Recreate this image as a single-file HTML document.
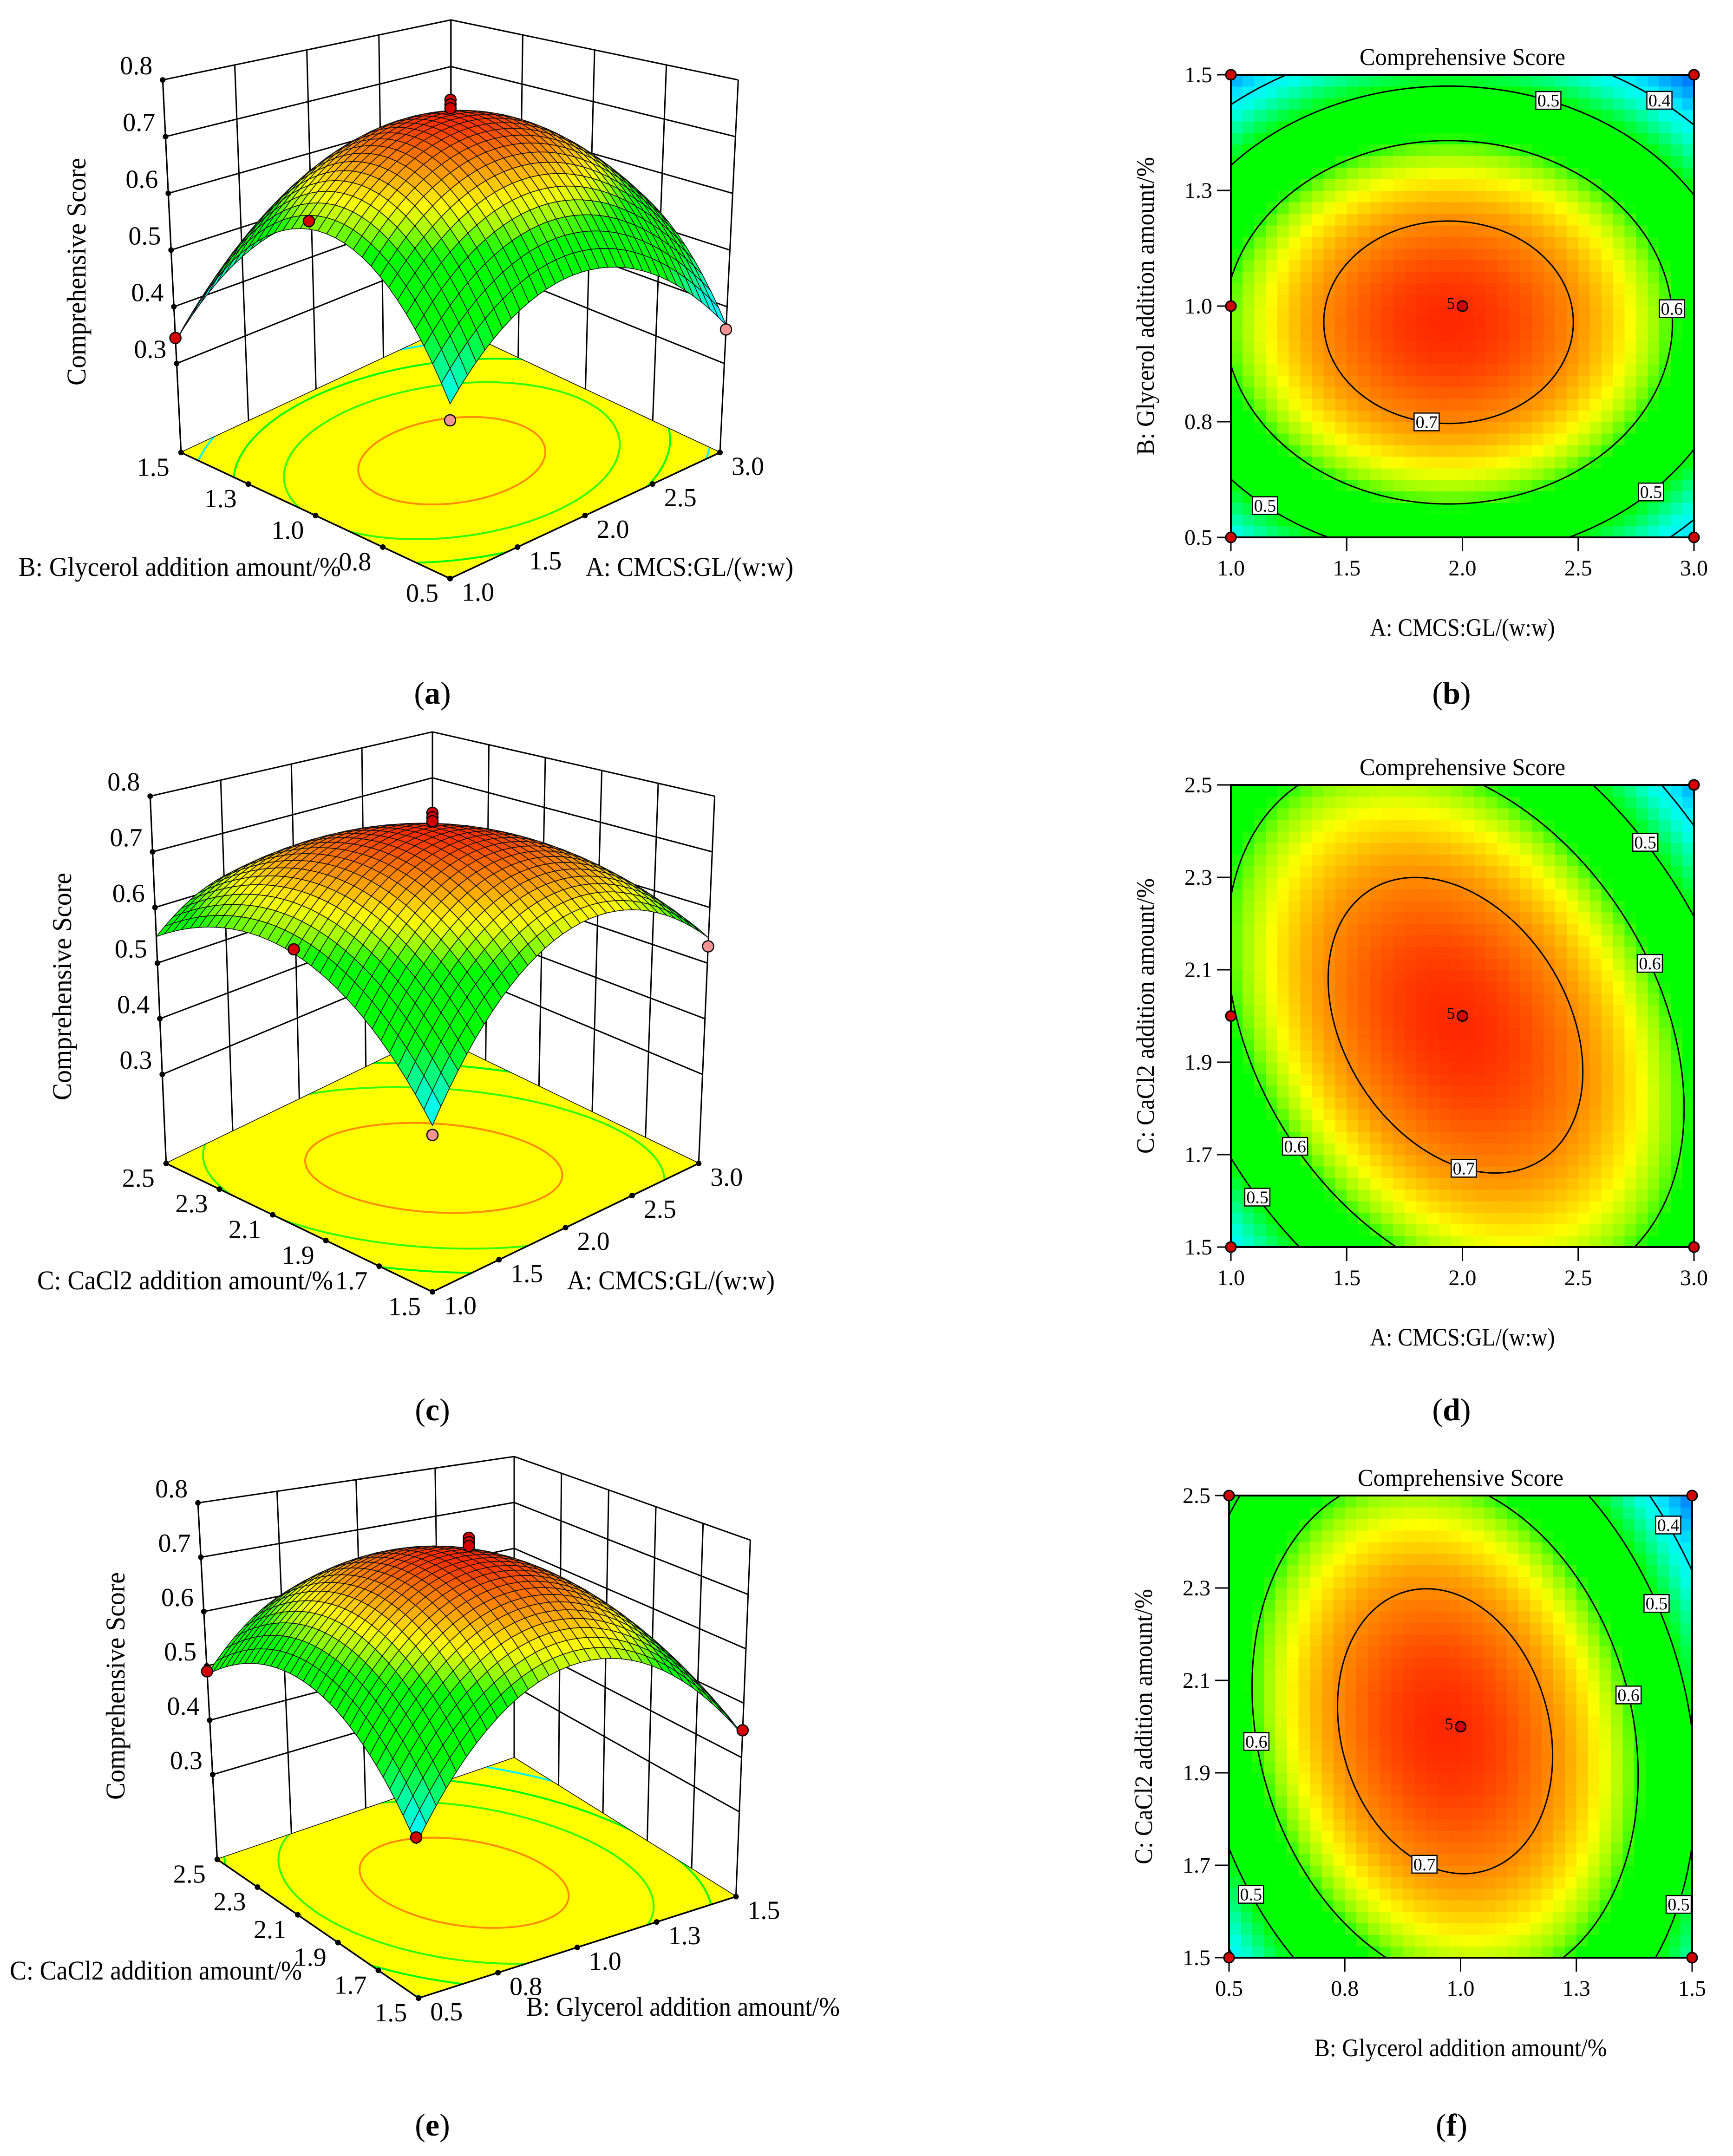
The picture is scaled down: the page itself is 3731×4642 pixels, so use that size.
<!DOCTYPE html>
<html><head><meta charset="utf-8"><title>Response surface figure</title>
<style>html,body{margin:0;padding:0;background:#fff}svg{display:block}text{font-family:"Liberation Serif","Times New Roman",serif}</style>
</head><body>
<svg id="fig" xmlns="http://www.w3.org/2000/svg" width="3731" height="4642" viewBox="0 0 3731 4642" font-family="Liberation Serif, serif"></svg>
<script>
// ---------- data ----------
const modelAB=[0.745,-0.06,-0.07,0.155,0.235,0];      // fs, xs, ys, a, b, c (coded)
const modelAC=[0.745,-0.03,-0.04,0.165,0.122,0.089];
const modelBC=[0.745,-0.067,-0.02,0.215,0.122,0.056];
const contourLevels=[0.4,0.5,0.6,0.7];
const ticksA=['1.0','1.5','2.0','2.5','3.0'];
const ticksB=['0.5','0.8','1.0','1.3','1.5'];
const ticksC=['1.5','1.7','1.9','2.1','2.3','2.5'];
const ticksZ=['0.3','0.4','0.5','0.6','0.7','0.8'];
const zTickValues=[0.3,0.4,0.5,0.6,0.7,0.8];
const labelsB=[[0.5,65.8],[0.4,46.5],[0.6,3.5],[0.7,257.6],[0.5,225],[0.5,320]];
const labelsD=[[0.5,44],[0.6,17.7],[0.7,273.3],[0.6,217.1],[0.5,221]];
const labelsF=[[0.4,42.8],[0.5,31.2],[0.6,11.2],[0.6,183.1],[0.7,261.2],[0.5,220.1],[0.5,323.4]];
const designB=[[-1,1],[1,1],[-1,0],[-1,-1],[1,-1],[0,0]];
const designD=[[1,1],[-1,0],[-1,-1],[1,-1],[0,0]];
const designF=[[-1,1],[1,1],[-1,-1],[1,-1],[0,0]];
const points3dA=[[0,0,0.765],[0,0,0.757],[0,0,0.75],[-1,-1,0.38],[1,-1,0.36],[-1,1,0.345],[-1,0,0.62]];
const points3dC=[[0,0,0.77],[0,0,0.762],[0,0,0.755],[-1,-1,0.38],[1,-1,0.53],[-1,0,0.60]];
const points3dE=[[0,0,0.77],[0,0,0.762],[0,0,0.755],[-1,-1,0.40],[1,-1,0.45],[-1,1,0.49]];
const cmapVals=[0.30,0.35,0.39,0.42,0.45,0.48,0.50,0.59,0.62,0.65,0.69,0.72,0.75];
const cmapCols=[[0,90,255],[0,170,255],[0,240,255],[0,255,230],[0,255,150],[0,255,60],[0,255,0],[0,255,0],[150,255,0],[255,255,0],[255,160,0],[255,100,0],[255,30,0]];

const NS='http://www.w3.org/2000/svg';
const FONT='"Liberation Serif", "Times New Roman", serif';
const svg=document.getElementById('fig');
function mk(tag,attrs,parent){const e=document.createElementNS(NS,tag);for(const k in attrs)e.setAttribute(k,attrs[k]);(parent||svg).appendChild(e);return e;}
function fval(m,x,y){const dx=x-m[1],dy=y-m[2];return m[0]-m[3]*dx*dx-m[4]*dy*dy-m[5]*dx*dy;}
function cpt(m,L,deg){const t=deg*Math.PI/180,c=Math.cos(t),s=Math.sin(t);const q=m[3]*c*c+m[4]*s*s+m[5]*c*s;const r=Math.sqrt((m[0]-L)/q);return [m[1]+r*c,m[2]+r*s];}
function cmap(f){
  if(f<=cmapVals[0])return 'rgb('+cmapCols[0].join(',')+')';
  for(let i=1;i<cmapVals.length;i++){if(f<=cmapVals[i]){const t=(f-cmapVals[i-1])/(cmapVals[i]-cmapVals[i-1]);const a=cmapCols[i-1],b=cmapCols[i];return 'rgb('+[0,1,2].map(k=>Math.round(a[k]+(b[k]-a[k])*t)).join(',')+')';}}
  return 'rgb('+cmapCols[cmapCols.length-1].join(',')+')';
}
function text(parent,x,y,str,size,anchor,extra){const t=mk('text',Object.assign({x:x,y:y,'font-size':size,'text-anchor':anchor||'middle',fill:'#000','font-family':FONT},extra||{}),parent);t.textContent=str;return t;}
let clipId=0;

function contourPlot(cfg){
  const g=mk('g',{});
  
  
  const {x0,y0,x1,y1,m}=cfg;
  const sx=x=>x0+(x+1)/2*(x1-x0), sy=y=>y1-(y+1)/2*(y1-y0);
  const N=40,cw=(x1-x0)/N,ch=(y1-y0)/N;
  const heat=mk('g',{'shape-rendering':'crispEdges'},g);
  
  
  for(let i=0;i<N;i++)for(let j=0;j<N;j++){
    const cx=-1+(i+0.5)*2/N, cy=-1+(j+0.5)*2/N;
    const r=mk('rect',{x:(x0+i*cw).toFixed(1),y:(y1-(j+1)*ch).toFixed(1),width:(cw+0.8).toFixed(1),height:(ch+0.8).toFixed(1),fill:cmap(fval(m,cx,cy))},heat);
    
    
  }
  const id='clip'+(clipId++);
  const cp=mk('clipPath',{id:id},g);mk('rect',{x:x0,y:y0,width:x1-x0,height:y1-y0},cp);
  const lines=mk('g',{'clip-path':'url(#'+id+')'},g);
  contourLevels.forEach(L=>{
    if(m[0]<=L)return;
    const pts=[];for(let d=0;d<=360;d+=0.5){const p=cpt(m,L,d);pts.push(sx(p[0]).toFixed(1)+','+sy(p[1]).toFixed(1));}
    const pl=mk('polyline',{points:pts.join(' '),fill:'none',stroke:'#000','stroke-width':3},lines);
    
    
  });
  const fr=mk('rect',{x:x0,y:y0,width:x1-x0,height:y1-y0,fill:'none',stroke:'#000','stroke-width':4},g);
  
  
  cfg.labels.forEach(l=>{
    const p=cpt(m,l[0],l[1]);const X=sx(p[0]),Y=sy(p[1]);
    const lg=mk('g',{},g);
    
    
    mk('rect',{x:X-27,y:Y-19,width:54,height:38,fill:'#fff',stroke:'#000','stroke-width':2.5},lg);
    text(lg,X,Y+13,l[0].toFixed(1),38);
  });
  cfg.xt.forEach((s,i,a)=>{const X=x0+i/(a.length-1)*(x1-x0);
    mk('line',{x1:X,y1:y1,x2:X,y2:y1+30,stroke:'#000','stroke-width':3},g);
    const t=text(g,X,y1+82,s,48);});
  cfg.yt.forEach((s,i,a)=>{const Y=y1-i/(a.length-1)*(y1-y0);
    mk('line',{x1:x0-30,y1:Y,x2:x0,y2:Y,stroke:'#000','stroke-width':3},g);
    const t=text(g,x0-40,Y+16,s,48,'end');});
  cfg.pts.forEach(p=>{const c=mk('circle',{cx:sx(p[0]),cy:sy(p[1]),r:11,fill:'#d00000',stroke:'#000','stroke-width':3},g);
    });
  text(g,sx(0)-16,sy(0)+6,'5',36,'end');
  const tt=text(g,(x0+x1)/2,y0-21,'Comprehensive Score',52,'middle',{textLength:443,lengthAdjust:'spacingAndGlyphs'});
  
  const xt=text(g,(x0+x1)/2,y1+212,cfg.xtitle,54,'middle',{textLength:cfg.xlen,lengthAdjust:'spacingAndGlyphs'});
  
  const cyy=(y0+y1)/2;
  const yt=text(g,0,0,cfg.ytitle,54,'middle',{textLength:cfg.ylen,lengthAdjust:'spacingAndGlyphs',transform:'translate('+(x0-166)+','+cyy+') rotate(-90)'});
  
}

function surface3d(cfg){
  const g=mk('g',{'stroke-linejoin':'round'});
  
  
  const {front,right,left,back,zf,kL,kB,lean,m}=cfg;
  function P(u,v,z){
    const a=(1-u)*(1-v),b=u*(1-v),c=u*v,d=(1-u)*v;
    const Fx=front[0]*a+right[0]*b+back[0]*c+left[0]*d;
    const Fy=front[1]*a+right[1]*b+back[1]*c+left[1]*d;
    const dep=(u+v)/2,k=kL+(kB-kL)*(2*dep-1);
    const zfr=(z-zf)/(0.8-zf);
    return [Fx+(Fx-back[0])*lean*zfr, Fy-(z-zf)*k];
  }
  const L=(p,q,w)=>mk('line',{x1:p[0].toFixed(1),y1:p[1].toFixed(1),x2:q[0].toFixed(1),y2:q[1].toFixed(1),stroke:'#000','stroke-width':w||3},g);
  const uT=cfg.uTicks.length, vT=cfg.vTicks.length;
  for(let i=0;i<uT;i++){const u=i/(uT-1);L(P(u,1,zf),P(u,1,0.8));}
  for(let i=0;i<vT;i++){const v=i/(vT-1);L(P(1,v,zf),P(1,v,0.8));}
  L(P(0,1,zf),P(1,1,zf));L(P(1,1,zf),P(1,0,zf));
  zTickValues.forEach(z=>{L(P(0,1,z),P(1,1,z));L(P(1,1,z),P(1,0,z));});
  const fc=[P(0,0,zf),P(1,0,zf),P(1,1,zf),P(0,1,zf)];
  const fl=mk('polygon',{points:fc.map(p=>p.map(n=>n.toFixed(1)).join(',')).join(' '),fill:'#ffff00'},g);
  
  const id='clip'+(clipId++);
  const cp=mk('clipPath',{id:id},g);mk('polygon',{points:fc.map(p=>p.join(',')).join(' ')},cp);
  const fg=mk('g',{'clip-path':'url(#'+id+')'},g);
  contourLevels.forEach(Lv=>{
    const pts=[];for(let d=0;d<=360;d+=0.5){const p=cpt(m,Lv,d);const s=P((p[0]+1)/2,(p[1]+1)/2,zf);pts.push(s[0].toFixed(1)+','+s[1].toFixed(1));}
    const pl=mk('polyline',{points:pts.join(' '),fill:'none',stroke:Lv>=0.7?'rgb(255,140,0)':cmap(Lv),'stroke-width':4},fg);
    
  });
  L(P(0,1,zf),P(0,0,zf),3.5);L(P(0,0,zf),P(1,0,zf),3.5);
  cfg.vTicks.forEach((s,i,a)=>{const p=P(0,i/(a.length-1),zf);mk('circle',{cx:p[0],cy:p[1],r:6,fill:'#000'},g);
    const t=text(g,p[0]-60,p[1]+50,s,56);});
  cfg.uTicks.forEach((s,i,a)=>{const p=P(i/(a.length-1),0,zf);mk('circle',{cx:p[0],cy:p[1],r:6,fill:'#000'},g);
    const t=text(g,p[0]+60,p[1]+48,s,56);});
  zTickValues.forEach((z,i)=>{const p=P(0,1,z);mk('circle',{cx:p[0],cy:p[1],r:6,fill:'#000'},g);
    const t=text(g,p[0]-22,p[1]-12,ticksZ[i],56,'end');});
  L(P(0,1,zf),P(0,1,0.8),3);
  const N=32,quads=[];
  for(let i=0;i<N;i++)for(let j=0;j<N;j++)quads.push([i,j]);
  quads.sort((a,b)=>(b[0]+b[1])-(a[0]+a[1]));
  const sg=mk('g',{},g);
  
  const F=(u,v)=>fval(m,2*u-1,2*v-1);
  quads.forEach(q=>{
    const u0=q[0]/N,u1=(q[0]+1)/N,v0=q[1]/N,v1=(q[1]+1)/N;
    const ps=[[u0,v0],[u1,v0],[u1,v1],[u0,v1]].map(c=>P(c[0],c[1],F(c[0],c[1])));
    const pp=mk('path',{d:'M'+ps.map(p=>p[0].toFixed(1)+' '+p[1].toFixed(1)).join('L')+'Z',fill:cmap(F((u0+u1)/2,(v0+v1)/2)),stroke:'#111','stroke-width':1.6},sg);
    
  });
  cfg.pts.forEach(p=>{const u=(p[0]+1)/2,v=(p[1]+1)/2;const s=P(u,v,p[2]);const above=p[2]>=F(u,v);
    const c=mk('circle',{cx:s[0],cy:s[1],r:12,fill:above?'#d40000':'#f29494',stroke:'#000','stroke-width':2.5},g);
    });
  const zt=text(g,0,0,'Comprehensive Score',58,'middle',{textLength:490,lengthAdjust:'spacingAndGlyphs',transform:'translate('+cfg.zTitle[0]+','+cfg.zTitle[1]+') rotate(-90)'});
  
  const vt=text(g,cfg.vTitle[0],cfg.vTitle[1],cfg.vName,58,'start',{textLength:cfg.vTitle[2],lengthAdjust:'spacingAndGlyphs'});
  
  const ut=text(g,cfg.uTitle[0],cfg.uTitle[1],cfg.uName,58,'start',{textLength:cfg.uTitle[2],lengthAdjust:'spacingAndGlyphs'});
  
}

surface3d({name:'surface-plot-a',front:[969,1245.7],right:[1550,974.3],left:[389.8,974.3],back:[970.8,702.9],zf:0.143,kL:1221,kB:1004.6,lean:0.068,m:modelAB,
  uTicks:ticksA,vTicks:ticksB,pts:points3dA,zTitle:[184,585],vName:'B: Glycerol addition amount/%',vTitle:[40,1240,694],uName:'A: CMCS:GL/(w:w)',uTitle:[1261,1240,447]});
surface3d({name:'surface-plot-c',front:[931,2781.4],right:[1504.2,2504.9],left:[357.7,2504.9],back:[931,2228.4],zf:0.14,kL:1198,kB:988.8,lean:0.06,m:modelAC,
  uTicks:ticksA,vTicks:ticksC,pts:points3dC,zTitle:[153,2124],vName:'C: CaCl2 addition amount/%',vTitle:[80,2776,637],uName:'A: CMCS:GL/(w:w)',uTitle:[1221,2776,447]});
surface3d({name:'surface-plot-e',front:[901.2,4302],right:[1584.4,4083.5],left:[467.7,4003.3],back:[1107,3784.8],zf:0.144,kL:1170,kB:989,lean:0.065,m:modelBC,
  uTicks:ticksB,vTicks:ticksC,pts:points3dE,zTitle:[268,3630],vName:'C: CaCl2 addition amount/%',vTitle:[21,4262,629],uName:'B: Glycerol addition amount/%',uTitle:[1133,4340,675]});

contourPlot({name:'contour-plot-b',x0:2650,y0:161,x1:3647,y1:1157,m:modelAB,labels:labelsB,xt:ticksA,yt:ticksB,pts:designB,
  xtitle:'A: CMCS:GL/(w:w)',xlen:398,ytitle:'B: Glycerol addition amount/%',ylen:642});
contourPlot({name:'contour-plot-d',x0:2650,y0:1690,x1:3647,y1:2685,m:modelAC,labels:labelsD,xt:ticksA,yt:ticksC,pts:designD,
  xtitle:'A: CMCS:GL/(w:w)',xlen:398,ytitle:'C: CaCl2 addition amount/%',ylen:593});
contourPlot({name:'contour-plot-f',x0:2646,y0:3220,x1:3643,y1:4215,m:modelBC,labels:labelsF,xt:ticksB,yt:ticksC,pts:designF,
  xtitle:'B: Glycerol addition amount/%',xlen:630,ytitle:'C: CaCl2 addition amount/%',ylen:593});

const caps=[['a',931,1515],['b',3125,1515],['c',931,3058],['d',3125,3058],['e',931,4598],['f',3125,4598]];
caps.forEach(c=>{
  const t=mk('text',{x:c[1],y:c[2],'font-size':68,'text-anchor':'middle',fill:'#000','font-family':FONT});
  
  
  const a=mk('tspan',{},t);a.textContent='(';
  const b=mk('tspan',{'font-weight':'bold'},t);b.textContent=c[0];
  const d=mk('tspan',{},t);d.textContent=')';
});
</script>
</body></html>
